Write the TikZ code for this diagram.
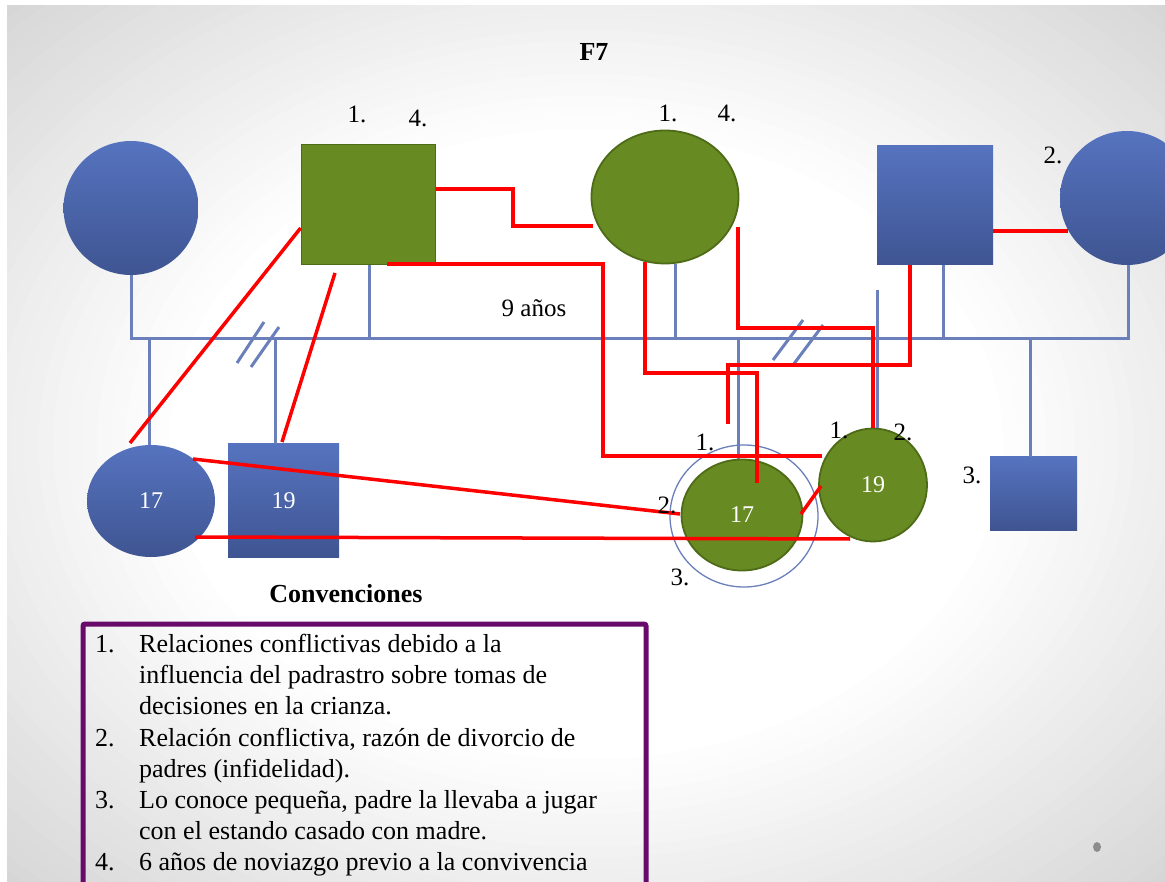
\documentclass[tikz,border=0pt]{standalone}
\usepackage{fontspec}
\setmainfont{Liberation Serif}
\usetikzlibrary{shapes.geometric}
\definecolor{gfill}{HTML}{678A22}
\definecolor{gedge}{HTML}{4E6B18}
\definecolor{btop}{HTML}{5673BF}
\definecolor{bbot}{HTML}{3F5592}
\definecolor{fline}{HTML}{6B80BA}
\definecolor{rline}{HTML}{FF0000}
\definecolor{legbox}{HTML}{680A6A}
\tikzset{
  bluesh/.style={top color=btop, bottom color=bbot, draw=none, inner sep=0pt, text=white, font=\fontsize{24}{28}\selectfont},
  bluecirc/.style={bluesh, ellipse},
  bluesq/.style={bluesh, rectangle},
  greensh/.style={fill=gfill, draw=gedge, line width=1.8pt, inner sep=0pt, text=white, font=\fontsize{24}{28}\selectfont},
  greencirc/.style={greensh, ellipse},
  greensq/.style={greensh, rectangle},
  ringsh/.style={ellipse, draw=fline, line width=1.3pt, inner sep=0pt},
  famline/.style={draw=fline, line width=3pt},
  confl/.style={draw=rline, line width=3.5pt},
  lbl/.style={font=\fontsize{25}{30}\selectfont, inner sep=0pt},
  legtxt/.style={font=\fontsize{26}{30}\selectfont, inner sep=0pt, anchor=base west},
  ttl/.style={font=\bfseries\fontsize{26}{30}\selectfont, inner sep=0pt},
}
\begin{document}
\begin{tikzpicture}[x=1pt,y=-1pt]
\useasboundingbox (0,0) rectangle (1165,882);
\clip (0,0) rectangle (1165,882);
% background slide
\fill[white] (0,0) rectangle (1165,882);
\begin{scope}
\clip (7,6) rectangle (1165,882);
\foreach \k in {0,...,30} {
  \pgfmathsetmacro\s{1.47-\k*0.025}
  \pgfmathsetmacro\g{max(0,17*(\s-0.72)/0.75)}
  \fill[black!\g] (586,444) ellipse [x radius=579*\s, y radius=438*\s];
}
\end{scope}

% title
\node[ttl] (title) at (594,52) {F7};

% family lines (blue)
\coordinate (jL) at (131,339);
\coordinate (jR) at (1128,339);
\coordinate (jsf) at (369,339);
\coordinate (jmo) at (675,339);
\coordinate (jfa) at (943,339);
\coordinate (jc1) at (149,339);
\coordinate (jc2) at (275,339);
\coordinate (jc3) at (738,339);
\coordinate (jc4) at (1030,339);
\coordinate (stub) at (877,290);

% persons
\node[bluecirc, minimum width=135pt, minimum height=134pt] (mgm) at (131,208) {};
\node[greensq, minimum width=134pt, minimum height=120pt] (sf) at (368.5,204.5) {};
\node[greencirc, minimum width=147pt, minimum height=133pt] (mo) at (665,197) {};
\node[bluesq, minimum width=116pt, minimum height=119pt] (fa) at (935,205.5) {};
\node[bluecirc, minimum width=134pt, minimum height=134pt] (fw) at (1127,198) {};

\node[bluecirc, minimum width=128pt, minimum height=112pt] (s17) at (151,501) {17};
\node[bluesq, minimum width=111pt, minimum height=113pt] (s19) at (283.5,500.5) {19};
\node[ringsh, minimum width=148pt, minimum height=142pt] (ring) at (744,516) {};
\node[greencirc, minimum width=121pt, minimum height=111pt] (g17) at (742,515) {17};
\node[greencirc, minimum width=108pt, minimum height=113pt] (g19) at (873,485) {19};
\node[bluesq, minimum width=87pt, minimum height=73pt] (b3) at (1033.5,493.5) {};

% blue connectors
\draw[famline] (mgm.south) -- (jL) -- (jR) -- (jR |- fw.south);
\draw[famline] (jsf |- sf.south) -- (jsf);
\draw[famline] (jmo |- mo.south) -- (jmo);
\draw[famline] (jfa |- fa.south) -- (jfa);
\draw[famline] (jc1) -- (jc1 |- s17.north);
\draw[famline] (jc2) -- (s19.north -| jc2);
\draw[famline] (jc3) -- (jc3 |- g17.north);
\draw[famline] (stub) -- (g19.north -| stub);
\draw[famline] (jc4) -- (b3.north -| jc4);
% divorce marks
\draw[famline] (237,363) -- (264,322);
\draw[famline] (251,367) -- (279,327);
\draw[famline] (773,360) -- (803,320);
\draw[famline] (793,365) -- (823,325);

% conflict lines (red)
\coordinate (r1e) at (593,226);
\draw[confl] (sf.east |- 0,189) -| (513,226) -- (r1e);
\coordinate (r2e) at (822,456);
\draw[confl] (387,264) -| (603,456) -- (r2e);
\coordinate (r3e) at (757,483);
\draw[confl] (645,262) |- (757,373) -- (r3e);
\draw[confl] (738,227) |- (873,328) -- (g19.north);
\coordinate (r5e) at (728,424);
\draw[confl] (fa.south -| 910,0) |- (728,365) -- (r5e);
\draw[confl] (fa.east |- 0,231) -- (1068,231);
\draw[confl] (sf.west |- 0,228) -- (130,443);
\coordinate (r8s) at (335,273);
\draw[confl] (r8s) -- (282,442);
\draw[confl] (193,459) -- (680,514);
\coordinate (r10e) at (850,539);
\draw[confl] (195,537) -- (r10e);
\draw[confl] (801,514) -- (821,486);

% labels
\node[lbl] (l1) at (357,114) {1.};
\node[lbl] (l2) at (418,118) {4.};
\node[lbl] (l3) at (668,113) {1.};
\node[lbl] (l4) at (727,113) {4.};
\node[lbl] (l5) at (1053,155) {2.};
\node[lbl] (l6) at (534,308) {9 años};
\node[lbl] (l7) at (705,442) {1.};
\node[lbl] (l8) at (667,505) {2.};
\node[lbl] (l9) at (680,577) {3.};
\node[lbl] (l10) at (839,430) {1.};
\node[lbl] (l11) at (903,432) {2.};
\node[lbl] (l12) at (972,475) {3.};

% legend
\node[ttl] (conv) at (346,594) {Convenciones};
\draw[draw=legbox, line width=5pt, rounded corners=2pt] (83,624) rectangle (646,900);
\node[legtxt] (n1) at (95,652) {1.};
\node[legtxt] (t1a) at (139,652) {Relaciones conflictivas debido a la};
\node[legtxt] (t1b) at (139,683) {influencia del padrastro sobre tomas de};
\node[legtxt] (t1c) at (139,714.5) {decisiones en la crianza.};
\node[legtxt] (n2) at (95,746) {2.};
\node[legtxt] (t2a) at (139,746) {Relación conflictiva, razón de divorcio de};
\node[legtxt] (t2b) at (139,777) {padres (infidelidad).};
\node[legtxt] (n3) at (95,808) {3.};
\node[legtxt] (t3a) at (139,808) {Lo conoce pequeña, padre la llevaba a jugar};
\node[legtxt] (t3b) at (139,839) {con el estando casado con madre.};
\node[legtxt] (n4) at (95,870) {4.};
\node[legtxt] (t4a) at (139,870) {6 años de noviazgo previo a la convivencia};

% slide dot
\node[ellipse, fill=black!45, inner sep=0pt, minimum width=8pt, minimum height=10pt] (dot) at (1097,847) {};
\end{tikzpicture}
\end{document}
